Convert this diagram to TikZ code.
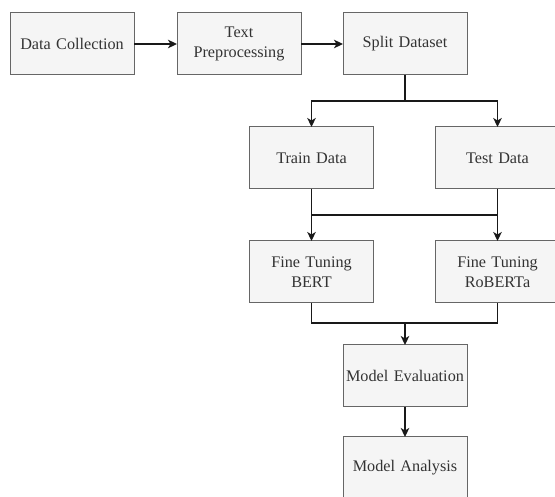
\documentclass[tikz,border=0pt]{standalone}
\usepackage{fontspec}
\setmainfont{Liberation Serif}
\usetikzlibrary{arrows.meta, positioning}

\definecolor{boxfill}{HTML}{F5F5F5}
\definecolor{boxline}{HTML}{666666}

\begin{document}
\begin{tikzpicture}[
  node distance = 42pt and 43pt,
  block/.style = {
    rectangle, draw=boxline, fill=boxfill, line width=1pt, outer sep=0pt,
    minimum width=124pt, minimum height=62pt, inner sep=1pt,
    text width=122pt, align=center,
    font=\fontsize{16.2}{20.5}\selectfont, text=black!80
  },
  arrow/.style = {
    -{Stealth[length=9pt, width=8.5pt, inset=2.5pt]}, line width=1.4pt, black!90
  },
  line/.style = {
    line width=1.4pt, black!90
  }
]

% ====== TOP ROW ======
\node[block, anchor=north west] (collect) at (0,0) {Data Collection};
\node[block, right=43pt of collect] (prep) {Text\\Preprocessing};
\node[block, right=42pt of prep] (split) {Split Dataset};

% ====== PAGE FRAME ======
\useasboundingbox ([xshift=-10pt, yshift=13pt]collect.north west)
  rectangle +(555pt,-497pt);
\clip ([xshift=-10pt, yshift=13pt]collect.north west)
  rectangle +(555pt,-497pt);

% ====== SPLIT ROW ======
\node[block, below=52pt of split, xshift=-93.5pt] (train) {Train Data};
\node[block, right=62pt of train] (test) {Test Data};

% ====== FINE TUNING ROW ======
\node[block, below=52pt of train] (bert) {Fine Tuning\\BERT};
\node[block, below=52pt of test] (roberta) {Fine Tuning\\RoBERTa};

% ====== EVALUATION ======
\node[block, below=42pt of bert, xshift=93.5pt] (eval) {Model Evaluation};
\node[block, below=30pt of eval] (analysis) {Model Analysis};

% ====== ARROWS ======
\draw[arrow] (collect) -- (prep);
\draw[arrow] (prep) -- (split);

% split -> train / test
\coordinate[below=26pt of split] (splitjoin);
\draw[line] (split) -- (splitjoin);
\draw[arrow] (splitjoin) -| (train);
\draw[arrow] (splitjoin) -| (test);

% train / test -> both fine tuning boxes
\coordinate[below=26pt of train.south] (datajoin);
\draw[line] (train) -- (datajoin) -| (test);
\draw[arrow] (datajoin) -- (bert);
\draw[arrow] (test) -- (roberta);

% fine tuning -> evaluation
\coordinate[below=20pt of bert.south] (tunejoin);
\draw[line] (bert) |- (tunejoin) -| (roberta);
\draw[arrow] (tunejoin -| eval) -- (eval);

\draw[arrow] (eval) -- (analysis);

\end{tikzpicture}
\end{document}
